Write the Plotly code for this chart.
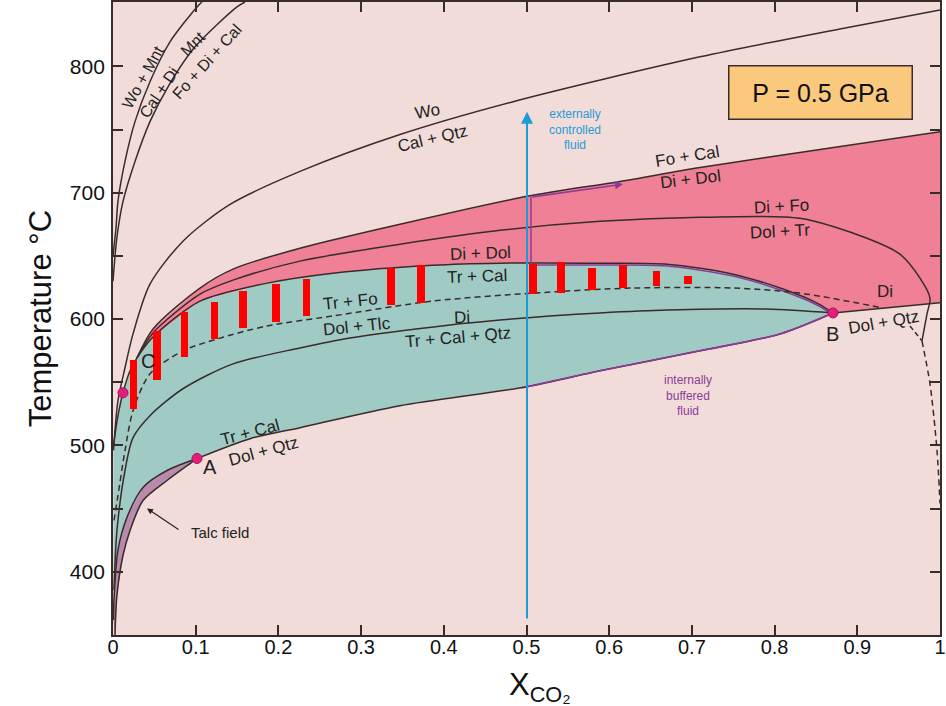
import plotly.graph_objects as go

# ---------------- data (X_CO2, T in °C) ----------------
wo_mnt_x = [0.0, 0.0036, 0.0060, 0.0145, 0.0266, 0.0447, 0.0689, 0.1016, 0.1076]
wo_mnt_t = [650.0, 672.0, 693.2, 724.8, 756.3, 787.9, 819.4, 847.1, 851.0]

mnt_x = [0.0, 0.0048, 0.0121, 0.0266, 0.0447, 0.0665, 0.0992, 0.1499, 0.1596]
mnt_t = [630.0, 665.0, 693.2, 724.8, 756.3, 783.9, 815.5, 847.1, 851.0]

wo_x = [0.0006, 0.0060, 0.0145, 0.0242, 0.0447, 0.0846, 0.1415, 0.2261, 0.3470, 0.4837, 0.7098, 0.8790, 1.0]
wo_t = [496.1, 535.4, 561.5, 588.3, 627.7, 661.7, 690.8, 716.9, 746.1, 772.1, 807.6, 829.7, 844.7]

fo_cal_x = [0.0290, 0.0484, 0.1052, 0.1451, 0.2261, 0.3470, 0.5006, 0.6131, 0.7098, 0.8549, 1.0]
fo_cal_t = [569.3, 592.2, 624.6, 639.6, 656.1, 675.1, 697.2, 709.0, 720.0, 734.2, 748.4]

di_fo_x = [0.0290, 0.0484, 0.1052, 0.1451, 0.2261, 0.3470, 0.4680, 0.5889, 0.7098, 0.8307,
           0.9117, 0.9516, 0.9758, 0.9879, 0.9843, 0.9782]
di_fo_t = [569.3, 589.1, 619.8, 630.9, 645.9, 659.3, 670.3, 677.4, 680.6, 679.8,
           664.0, 651.4, 632.5, 616.7, 604.1, 582.8]

teal_top_x = [0.0006, 0.0060, 0.0121, 0.0206, 0.0290, 0.0484, 0.1052, 0.1862, 0.2660, 0.3869,
              0.4680, 0.5889, 0.6699, 0.7497, 0.8102, 0.8513, 0.8706]
teal_top_t = [499.9, 523.6, 541.7, 559.1, 569.3, 585.9, 614.3, 628.5, 636.4, 642.7,
              644.3, 644.3, 643.5, 635.6, 623.8, 612.7, 604.9]

tr_fo_x = [0.0012, 0.0060, 0.0145, 0.0242, 0.0447, 0.0846, 0.1258, 0.1862, 0.2660, 0.3869,
           0.5079, 0.6288, 0.7497, 0.8307, 0.9311]
tr_fo_t = [440.7, 460.5, 496.0, 527.5, 556.7, 574.9, 584.3, 594.6, 602.5, 614.3,
           620.6, 624.6, 624.6, 620.6, 608.8]

di_x = [0.0012, 0.0048, 0.0145, 0.0242, 0.0447, 0.0846, 0.1451, 0.2261, 0.2866, 0.4075,
        0.4680, 0.5284, 0.5889, 0.6699, 0.7908, 0.8706]
di_t = [385.5, 432.8, 480.2, 506.2, 523.6, 544.9, 564.6, 577.2, 585.1, 595.4,
        599.3, 602.5, 604.9, 607.2, 608.0, 604.9]

bottom_x = [0.1016, 0.1657, 0.2261, 0.3470, 0.5006, 0.5889, 0.7098, 0.8065, 0.8706]
bottom_t = [489.7, 505.4, 514.1, 531.5, 546.5, 559.1, 574.9, 588.3, 604.9]

talc_up_x = [0.1016, 0.0653, 0.0363, 0.0169, 0.0060, 0.0012, 0.0006]
talc_up_t = [489.7, 480.2, 466.8, 443.1, 417.1, 377.6, 361.9]
talc_lo_x = [0.1016, 0.0931, 0.0653, 0.0363, 0.0206, 0.0121, 0.0048, 0.0024]
talc_lo_t = [489.7, 485.7, 472.3, 456.5, 432.8, 413.1, 381.6, 350.0]

dolqtz_x = [0.8706, 1.0]
dolqtz_t = [604.9, 613.0]

right_dash1_x = [0.9637, 0.9782]
right_dash1_t = [594.6, 582.8]
right_dash2_x = [0.9782, 0.9879, 0.9964, 1.0]
right_dash2_t = [582.8, 548.8, 496.0, 454.2]

# red bars (X position, top T, bottom T)
bar_x = [0.0248, 0.0532, 0.0865, 0.1227, 0.1572, 0.1971, 0.2340, 0.3362, 0.3724,
         0.5079, 0.5417, 0.5792, 0.6167, 0.6572, 0.6953]
bar_top = [567.8, 590.6, 605.6, 613.5, 622.2, 627.7, 632.1, 640.3, 642.7,
           643.9, 645.1, 640.3, 642.7, 638.0, 634.0]
bar_bot = [529.1, 552.0, 570.1, 584.3, 593.0, 598.1, 602.5, 610.8, 613.1,
           619.8, 621.0, 623.0, 624.6, 626.1, 628.1]

# invariant points
pt_x = [0.0121, 0.1016, 0.8706]
pt_t = [541.7, 489.7, 604.9]

# fluid paths
ext_x = 0.5006
ext_t = [361.9, 764.2]
int_x = 0.5054
int_t = [644.3, 696.6]
int_arrow_end = (0.6167, 706.8)

x_ticks = [0, 0.1, 0.2, 0.3, 0.4, 0.5, 0.6, 0.7, 0.8, 0.9, 1]
x_ticklabels = ["0", "0.1", "0.2", "0.3", "0.4", "0.5", "0.6", "0.7", "0.8", "0.9", "1"]
y_ticks = [400, 500, 600, 700, 800]

X_RANGE = [0, 1.0]
Y_RANGE = [350, 851]

# ---------------- styles ----------------
BG = "#f2dcd9"
PINK = "#f08096"
TEAL = "#a0cbc4"
TALC = "#b98aae"
LINE = "#3a2b2b"
PURPLE = "#8e3a98"
BLUE = "#1f9bd4"
DOT = "#e0207c"
FONT = "Liberation Sans, Arial, sans-serif"

fig = go.Figure()

# regions
c_idx = teal_top_x.index(fo_cal_x[0])
pink_x = fo_cal_x + [1.0] + dolqtz_x[::-1] + teal_top_x[c_idx:][::-1]
pink_t = fo_cal_t + [dolqtz_t[-1]] + dolqtz_t[::-1] + teal_top_t[c_idx:][::-1]
fig.add_trace(go.Scatter(x=pink_x, y=pink_t, fill="toself", fillcolor=PINK,
                         mode="none", hoverinfo="skip"))

teal_x = teal_top_x + bottom_x[::-1][1:] + talc_up_x[1:]
teal_t = teal_top_t + bottom_t[::-1][1:] + talc_up_t[1:]
fig.add_trace(go.Scatter(x=teal_x, y=teal_t, fill="toself", fillcolor=TEAL,
                         mode="none", hoverinfo="skip"))

talc_x = talc_up_x + talc_lo_x[::-1]
talc_t = talc_up_t + talc_lo_t[::-1]
fig.add_trace(go.Scatter(x=talc_x, y=talc_t, fill="toself", fillcolor=TALC,
                         mode="none", hoverinfo="skip"))


def curve(x, y, dash="solid", color=LINE, width=1.5):
    fig.add_trace(go.Scatter(x=x, y=y, mode="lines", line=dict(color=color, width=width,
                                                               dash=dash, shape="spline",
                                                               smoothing=0.8),
                             hoverinfo="skip"))


# purple internally buffered paths (under black lines)
up_top = [(x, t) for x, t in zip(teal_top_x, teal_top_t) if x >= 0.46]
curve([int_x] + [p[0] for p in up_top[1:]], [int_t[0] - 1.5] + [p[1] - 1.5 for p in up_top[1:]],
      color=PURPLE, width=1.5)

for cx, ct in [(wo_mnt_x, wo_mnt_t), (mnt_x, mnt_t), (wo_x, wo_t), (fo_cal_x, fo_cal_t),
               (di_fo_x, di_fo_t), (teal_top_x, teal_top_t), (di_x, di_t),
               (bottom_x, bottom_t), (talc_up_x, talc_up_t), (talc_lo_x, talc_lo_t),
               (dolqtz_x, dolqtz_t)]:
    curve(cx, ct)

curve(tr_fo_x, tr_fo_t, dash="6px,4px")
curve(right_dash1_x, right_dash1_t, dash="5px,3px")
curve(right_dash2_x, right_dash2_t, dash="6px,4px")

low_part = [(x, t) for x, t in zip(bottom_x, bottom_t) if x >= 0.5]
curve([p[0] for p in low_part], [p[1] for p in low_part], color=PURPLE, width=1.6)
curve([int_x, int_x], int_t, color=PURPLE, width=1.5)

# red bars on an overlaid (identical) axis pair so they sit above the filled regions
fig.add_trace(go.Bar(x=bar_x, y=[a - b for a, b in zip(bar_top, bar_bot)], base=bar_bot,
                     width=0.0095, marker=dict(color="#ff0000", line=dict(width=0)),
                     hoverinfo="skip", xaxis="x2", yaxis="y2"))

# invariant points
fig.add_trace(go.Scatter(x=pt_x, y=pt_t, mode="markers",
                         marker=dict(color=DOT, size=10, line=dict(color="#b0105a", width=1)),
                         hoverinfo="skip", xaxis="x2", yaxis="y2"))

ann = []


def lab(text, x, y, angle=0, size=17, color="#222222", **kw):
    d = dict(text=text, x=x, y=y, xref="x", yref="y", showarrow=False, textangle=angle,
             font=dict(family=FONT, size=size, color=color))
    d.update(kw)
    ann.append(d)


lab("Wo + Mnt", 0.0363, 791.0, -61, 16)
lab("Cal + Di", 0.0560, 779.0, -56, 16)
lab("Mnt", 0.0967, 818.5, -45, 16)
lab("Fo + Di + Cal", 0.1137, 803.7, -48, 16)
lab("Wo", 0.3797, 764.2, -10)
lab("Cal + Qtz", 0.3869, 742.9, -13)
lab("Fo + Cal", 0.6941, 728.7, -9)
lab("Di + Dol", 0.6977, 710.6, -7)
lab("Di + Fo", 0.8089, 689.3, -3)
lab("Dol + Tr", 0.8065, 669.5, -3)
lab("Di", 0.9335, 622.2, 0)
lab("Dol + Qtz", 0.9311, 597.5, -10)
lab("B", 0.8706, 588.5, 0, 20)
lab("Di + Dol", 0.4438, 652.2, -2)
lab("Tr + Cal", 0.4401, 634.0, -2)
lab("Tr + Fo", 0.2866, 614.3, -6)
lab("Dol + Tlc", 0.2950, 593.8, -6)
lab("Di", 0.4220, 600.9, -2)
lab("Tr + Cal + Qtz", 0.4172, 585.1, -5)
lab("Tr + Cal", 0.1657, 510.2, -15)
lab("Dol + Qtz", 0.1814, 495.2, -15)
lab("A", 0.1173, 482.6, 0, 20)
lab("C", 0.0423, 567.0, 0, 20)
lab("Talc field", 0.1294, 431.3, 0, 15)
lab("externally<br>controlled<br>fluid", 0.5586, 750.0, 0, 12, BLUE)
lab("internally<br>buffered<br>fluid", 0.6953, 539.4, 0, 12, PURPLE)
lab("P = 0.5 GPa", 0.8549, 779.6, 0, 25, "#111111", bgcolor="#fbc97e", bordercolor="#3a2b2b",
    borderwidth=1.5, width=180, height=50, borderpad=1)

# arrows
ann.append(dict(x=0.0411, y=450.2, ax=0.0810, ay=432.8, xref="x", yref="y", axref="x", ayref="y",
                showarrow=True, arrowhead=2, arrowsize=1, arrowwidth=1.2, arrowcolor="#222222",
                text=""))
ann.append(dict(x=ext_x, y=ext_t[1], ax=ext_x, ay=ext_t[0], xref="x", yref="y", axref="x",
                ayref="y", showarrow=True, arrowhead=2, arrowsize=1.2, arrowwidth=2,
                arrowcolor=BLUE, text=""))
ann.append(dict(x=int_arrow_end[0], y=int_arrow_end[1], ax=int_x, ay=int_t[1], xref="x", yref="y",
                axref="x", ayref="y", showarrow=True, arrowhead=2, arrowsize=1, arrowwidth=1.6,
                arrowcolor=PURPLE, text=""))

# axis titles
ann.append(dict(text="Temperature °C", x=-0.088, y=0.499, xref="paper", yref="paper",
                xanchor="center", yanchor="middle",
                showarrow=False, textangle=-90, font=dict(family=FONT, size=31, color="#111111")))
ann.append(dict(text="X<sub>CO₂</sub>", x=0.516, y=-0.082, xref="paper", yref="paper",
                xanchor="center", yanchor="middle",
                showarrow=False, font=dict(family=FONT, size=31, color="#111111")))

fig.update_layout(
    width=946, height=706,
    margin=dict(l=113, r=6, t=0, b=71),
    paper_bgcolor="white", plot_bgcolor=BG,
    showlegend=False, annotations=ann, bargap=0,
    font=dict(family=FONT),
    xaxis2=dict(overlaying="x", range=X_RANGE, visible=False),
    yaxis2=dict(overlaying="y", range=Y_RANGE, visible=False),
)
fig.layout.xaxis.update(range=X_RANGE, tickvals=x_ticks, ticktext=x_ticklabels, ticks="inside",
                        ticklen=10, tickwidth=1.5, tickcolor=LINE, showline=True, linecolor=LINE,
                        linewidth=1.8, mirror="ticks", showgrid=False, zeroline=False,
                        tickfont=dict(size=20, color="#111111"), ticklabelstandoff=-7)
fig.layout.yaxis.update(range=Y_RANGE, tickvals=y_ticks, ticks="inside", ticklen=10, tickwidth=1.5,
                        tickcolor=LINE, showline=True, linecolor=LINE, linewidth=1.8, mirror="ticks",
                        showgrid=False, zeroline=False,
                        minor=dict(tickvals=[450, 550, 650, 750], ticks="inside", ticklen=10,
                                   tickwidth=1.5, tickcolor=LINE),
                        tickfont=dict(size=21, color="#111111"), ticklabelstandoff=2)

fig.write_html("out.html")
